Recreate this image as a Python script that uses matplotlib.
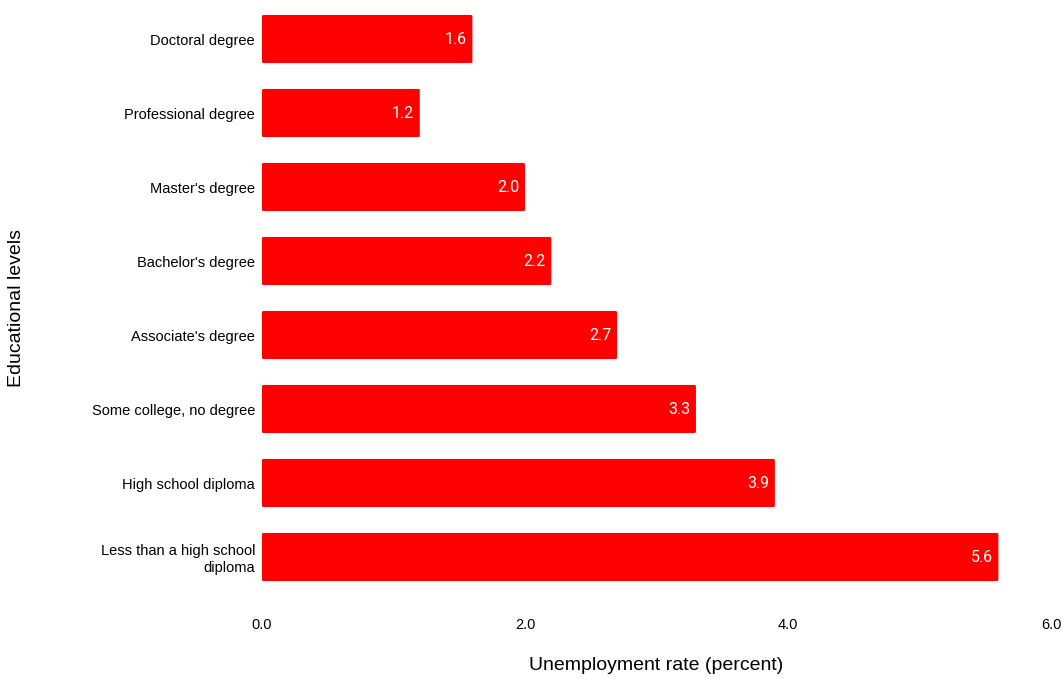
import matplotlib
matplotlib.use("Agg")
import matplotlib.pyplot as plt
from matplotlib.patches import FancyBboxPatch

categories = ["Less than a high school\ndiploma", "High school diploma", "Some college, no degree",
              "Associate's degree", "Bachelor's degree", "Master's degree",
              "Professional degree", "Doctoral degree"]
values = [5.6, 3.9, 3.3, 2.7, 2.2, 2.0, 1.2, 1.6]
xticks = [0.0, 2.0, 4.0, 6.0]

plt.rcParams['font.family'] = ['Liberation Sans', 'DejaVu Sans']

fig = plt.figure(figsize=(10.63, 6.79), dpi=100)
ax = fig.add_axes([262/1063, 1 - 594/679, (1051-262)/1063, 592/679])

bh = 0.65
for i, v in enumerate(values):
    p = FancyBboxPatch((0, i - bh/2), v, bh,
                       boxstyle="round,pad=0,rounding_size=0.012",
                       mutation_aspect=1.75, facecolor="#ff0000", edgecolor="none")
    ax.add_patch(p)
    ax.text(v - 0.045, i, f"{v:.1f}", ha="right", va="center", color="white",
            fontsize=11.5, family=["Roboto", "DejaVu Sans"])

ax.set_xlim(0, 6)
ax.set_ylim(-0.5, len(values) - 0.5)
ax.set_yticks(range(len(values)))
ax.set_yticklabels(categories, fontsize=10.5)
ax.set_xticks(xticks)
ax.set_xticklabels([f"{t:.1f}" for t in xticks], fontsize=10.5)
ax.tick_params(axis="both", length=0)
ax.tick_params(axis="y", pad=5)
ax.tick_params(axis="x", pad=17)
for s in ax.spines.values():
    s.set_visible(False)

fig.text((262 + 1051) / 2 / 1063, 1 - 665/679, "Unemployment rate (percent)", fontsize=14,
         ha="center", va="center")
fig.text(17/1063, 1 - 308/679, "Educational levels", rotation=90, fontsize=14,
         ha="center", va="center")

fig.savefig("out.png", dpi=100)
